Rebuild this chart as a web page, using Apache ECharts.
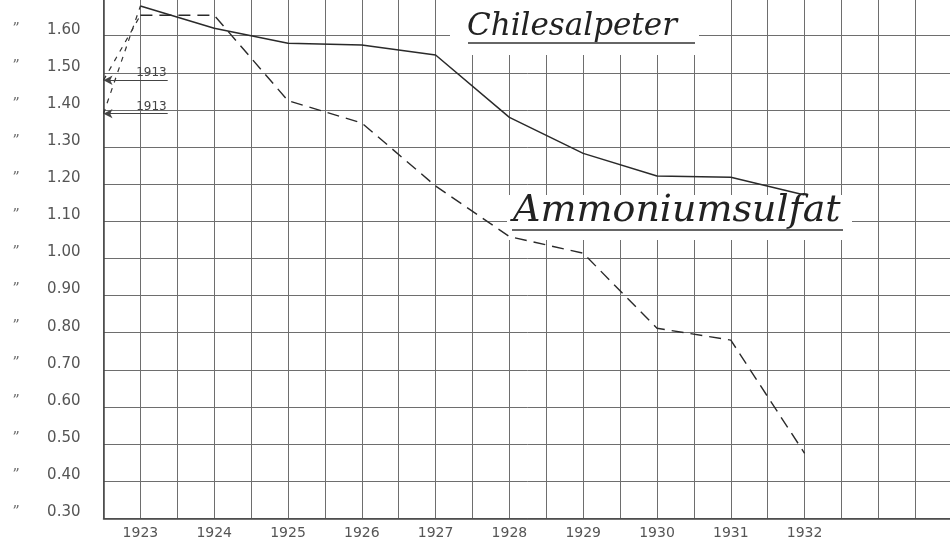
<!DOCTYPE html>
<html>
<head>
<meta charset="utf-8">
<script src="https://cdn.jsdelivr.net/npm/echarts@6/dist/echarts.min.js"></script>
<style>
  html, body { margin: 0; padding: 0; background: #ffffff; }
  #chart { width: 950px; height: 540px; }
</style>
</head>
<body>
<div id="chart"></div>
<script>
// ---- data ----
const years = [1923, 1924, 1925, 1926, 1927, 1928, 1929, 1930, 1931, 1932];
const chilesalpeter = [1.68, 1.62, 1.58, 1.575, 1.548, 1.38, 1.283, 1.222, 1.219, 1.171];
const ammoniumsulfat = [1.655, 1.655, 1.425, 1.365, 1.195, 1.059, 1.014, 0.812, 0.78, 0.475];
const chile1913 = 1.39;
const ammon1913 = 1.48;
const refYear = '1913';
const seriesNames = ['Chilesalpeter', 'Ammoniumsulfat'];
const yMin = 0.30, yMax = 1.70, yStep = 0.10;
const xMin = 1922.5, xMax = 1934, xStep = 0.5;

const ink = '#2a2a2a';
const gridInk = '#6e6e6e';
const labelInk = '#555555';

function refMarkLine(v) {
  return {
    silent: true,
    symbol: ['arrow', 'none'],
    symbolSize: [7, 9],
    lineStyle: { type: 'solid', color: '#444', width: 1 },
    label: { show: true, position: 'insideEndTop', formatter: refYear, color: '#444', fontSize: 12, fontFamily: 'DejaVu Sans', distance: 1 },
    data: [[{ coord: [xMin, v] }, { coord: [1923.37, v] }]]
  };
}

const chart = echarts.init(document.getElementById('chart'), null, { renderer: 'canvas' });
chart.setOption({
  backgroundColor: '#ffffff',
  animation: false,
  grid: { left: 103.5, right: -2.2, top: -1.4, bottom: 21.7, containLabel: false, outerBoundsMode: 'none' },
  xAxis: {
    type: 'value', min: xMin, max: xMax, interval: xStep,
    axisLine: { show: true, lineStyle: { color: '#444', width: 1.5 } },
    axisTick: { show: false },
    splitLine: { show: true, lineStyle: { color: gridInk, width: 1 } },
    axisLabel: {
      color: labelInk, fontSize: 14, fontFamily: 'DejaVu Sans', margin: 8,
      showMinLabel: true, showMaxLabel: true,
      formatter: v => years.includes(Math.round(v * 2) / 2) ? String(Math.round(v)) : ''
    }
  },
  yAxis: {
    type: 'value', min: yMin, max: yMax, interval: yStep,
    axisLine: { show: true, lineStyle: { color: '#444', width: 1.5 } },
    axisTick: { show: false },
    splitLine: { show: true, lineStyle: { color: gridInk, width: 1 } },
    axisLabel: {
      margin: 23, verticalAlign: 'bottom',
      formatter: v => '{d|\u201D}{v|' + v.toFixed(2) + '}',
      rich: {
        d: { width: 33, align: 'left', fontSize: 14, color: '#666', fontFamily: 'DejaVu Serif', lineHeight: 12 },
        v: { width: 35, align: 'right', fontSize: 15, color: labelInk, fontFamily: 'DejaVu Sans', lineHeight: 12 }
      }
    }
  },
  series: [
    {
      name: seriesNames[0], type: 'line', symbol: 'none', z: 3,
      data: years.map((y, i) => [y, chilesalpeter[i]]),
      lineStyle: { color: ink, width: 1.5 }
    },
    {
      name: seriesNames[1], type: 'line', symbol: 'none', z: 3,
      data: years.map((y, i) => [y, ammoniumsulfat[i]]),
      lineStyle: { color: ink, width: 1.4, type: [12, 7] }
    },
    {
      name: seriesNames[0] + ' ' + refYear, type: 'line', symbol: 'none', z: 3,
      data: [[xMin, chile1913], [years[0], chilesalpeter[0]]],
      lineStyle: { color: '#333', width: 1.2, type: [5, 6] },
      markLine: refMarkLine(chile1913)
    },
    {
      name: seriesNames[1] + ' ' + refYear, type: 'line', symbol: 'none', z: 3,
      data: [[xMin, ammon1913], [years[0], ammoniumsulfat[0]]],
      lineStyle: { color: '#333', width: 1.2, type: [5, 6] },
      markLine: refMarkLine(ammon1913)
    }
  ],
  graphic: [
    { type: 'rect', z: 1, shape: { x: 450, y: 0, width: 249, height: 55 }, style: { fill: '#ffffff' } },
    { type: 'text', z: 1, x: 467, y: 27, style: { text: seriesNames[0], font: 'italic 31px "DejaVu Serif"', fill: '#222', verticalAlign: 'middle', align: 'left' } },
    { type: 'line', z: 1, shape: { x1: 468, y1: 43, x2: 695, y2: 43 }, style: { stroke: '#333', lineWidth: 1.3 } },
    { type: 'rect', z: 1, shape: { x: 507, y: 195, width: 345, height: 45 }, style: { fill: '#ffffff' } },
    { type: 'text', z: 1, x: 513, y: 211, style: { text: seriesNames[1], font: 'italic 38px "DejaVu Serif"', fill: '#222', verticalAlign: 'middle', align: 'left' } },
    { type: 'line', z: 1, shape: { x1: 512, y1: 230, x2: 843, y2: 230 }, style: { stroke: '#333', lineWidth: 1.3 } }
  ]
});
</script>
</body>
</html>
